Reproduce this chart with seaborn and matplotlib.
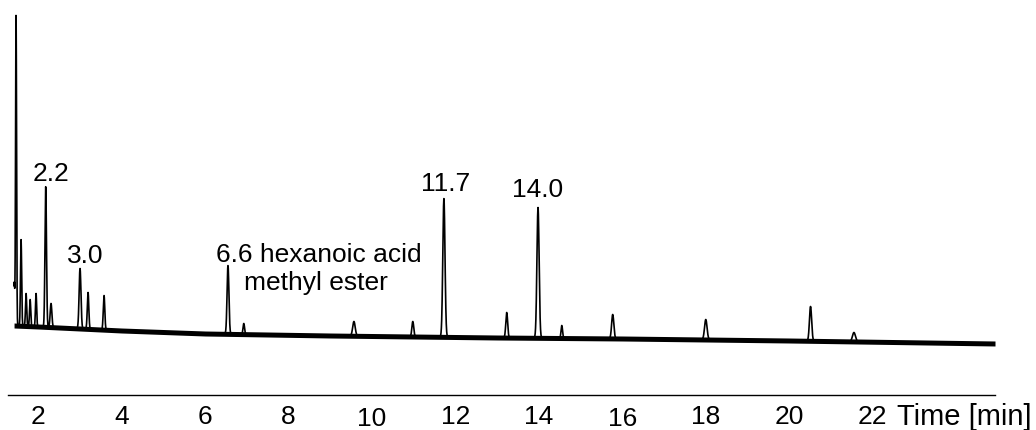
import numpy as np
import pandas as pd
import matplotlib
matplotlib.use('Agg')
import matplotlib.pyplot as plt
import seaborn as sns

# peak table (time in min, apex height in plot units)
peak_times = [1.43, 1.473, 1.593, 1.713, 1.81, 1.952, 2.184, 2.311, 3.006, 3.198, 3.581,
              6.551, 6.93, 9.569, 10.98, 11.725, 13.23, 13.98, 14.55, 15.77, 18.0, 20.51, 21.55]
peak_tops = [112, 380, 155, 101, 95, 101, 208, 91, 126, 102, 99,
             129, 71, 73, 73, 196, 82, 187, 69, 80, 75, 88, 62]
peak_widths = [0.012, 0.012, 0.014, 0.014, 0.014, 0.014, 0.018, 0.02, 0.022, 0.018, 0.018,
               0.022, 0.018, 0.03, 0.022, 0.026, 0.022, 0.026, 0.018, 0.026, 0.03, 0.026, 0.035]

# baseline drift
base_times = [1.42, 2.0, 3.0, 4.0, 6.0, 9.0, 11.0, 13.0, 16.0, 20.0, 24.95]
base_levels = [69, 68, 66, 64, 61, 59, 58, 57, 56, 54, 51]

# peak labels
label_texts = ['2.2', '3.0', '6.6 hexanoic acid', 'methyl ester', '11.7', '14.0']
label_x = [2.311, 3.138, 8.73, 8.67, 11.77, 13.98]
label_y = [213.5, 131.5, 132.5, 104.5, 203.5, 197.5]

tick_values = [2, 4, 6, 8, 10, 12, 14, 16, 18, 20, 22]
lowered_ticks = [10, 16]

# build the trace from the peak table
t = np.linspace(1.425, 24.93, 9000)
base = np.interp(t, base_times, base_levels)
signal = base.copy()
for tp, top, w in zip(peak_times, peak_tops, peak_widths):
    h = top - np.interp(tp, base_times, base_levels)
    signal += h * np.exp(-0.5 * ((t - tp) / w) ** 2)
trace = pd.DataFrame({'time': t, 'signal': signal})

sns.set_style('white')
plt.rcParams['font.family'] = ['Liberation Sans', 'DejaVu Sans']
plt.rcParams['text.color'] = 'black'
plt.rcParams['xtick.color'] = 'black'

fig = plt.figure(figsize=(10.36, 4.30), dpi=100)
ax = fig.add_axes([8 / 1036, (430 - 394.5) / 430, (995 - 8) / 1036, 394.5 / 430])

ax.fill_between(t, base - 2.5, base + 2.5, color='black', lw=0)
sns.lineplot(data=trace, x='time', y='signal', color='black', lw=1.2, ax=ax,
             estimator=None, sort=False)

for txt, x, y in zip(label_texts, label_x, label_y):
    ax.text(x, y, txt, ha='center', va='baseline', fontsize=19, color='black')

ax.set_xlim(1.28, 24.93)
ax.set_ylim(0, 394.5)
ax.set_xlabel('')
ax.set_ylabel('')
ax.set_yticks([])
ax.set_xticks(tick_values)
ax.set_xticklabels([str(v) for v in tick_values], fontsize=19, color='black')
ax.tick_params(axis='x', direction='out', length=5, width=1, pad=2.5, color='black')
for tick, v in zip(ax.xaxis.get_major_ticks(), tick_values):
    if v in lowered_ticks:
        tick.set_pad(4)

for side in ['top', 'left', 'right']:
    ax.spines[side].set_visible(False)
ax.spines['bottom'].set_linewidth(1.0)
ax.spines['bottom'].set_color('black')
ax.patch.set_alpha(0)

ax.text(22.57, -30.5, 'Time [min]', ha='left', va='baseline', fontsize=21,
        color='black', clip_on=False)

fig.savefig('out.png', dpi=100)
